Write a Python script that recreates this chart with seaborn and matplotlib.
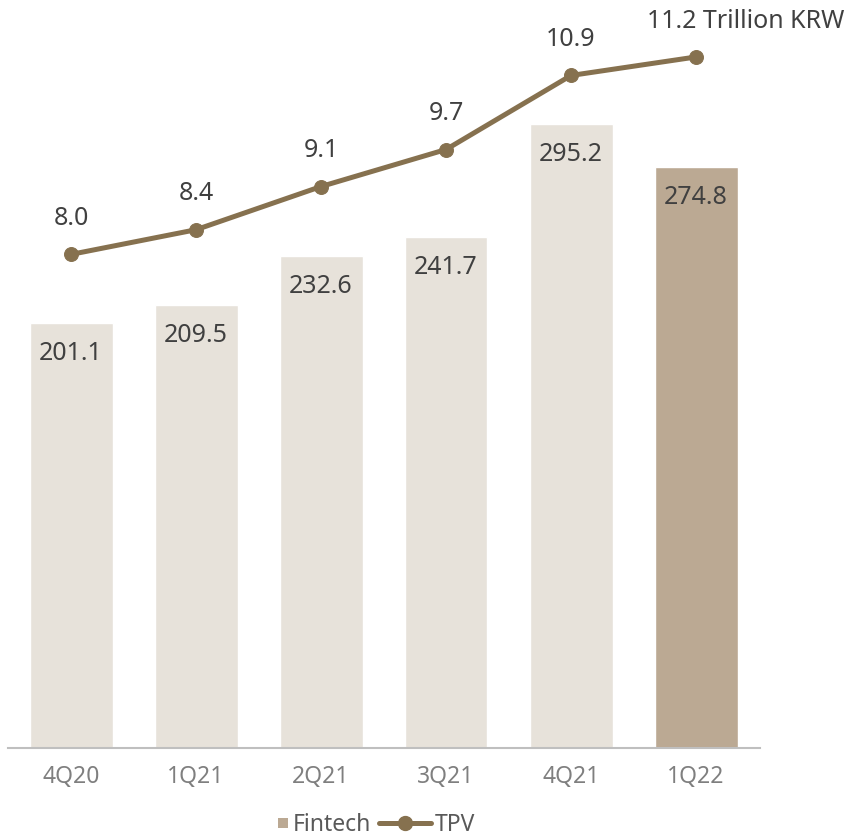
import matplotlib
matplotlib.use("Agg")
import matplotlib.pyplot as plt
import seaborn as sns
import pandas as pd
from matplotlib.lines import Line2D
from matplotlib.patches import Rectangle
from matplotlib.legend_handler import HandlerBase

quarters = ["4Q20", "1Q21", "2Q21", "3Q21", "4Q21", "1Q22"]
fintech = [201.1, 209.5, 232.6, 241.7, 295.2, 274.8]
tpv = [8.0, 8.4, 9.1, 9.7, 10.9, 11.2]
tpv_labels = ["8.0", "8.4", "9.1", "9.7", "10.9", "11.2 Trillion KRW"]

sns.set_style("white")
plt.rcParams['font.family'] = ['Noto Sans', 'DejaVu Sans']

bar_light = "#E7E2DA"
bar_dark = "#BBA993"
line_col = "#86714F"
text_col = "#404040"

df = pd.DataFrame({"q": quarters, "fintech": fintech, "tpv": tpv})

fig = plt.figure(figsize=(8.44, 8.39), dpi=100)
ax = fig.add_axes([8/844, 91/839, 752/844, 738/839])
palette = [bar_light]*5 + [bar_dark]
sns.barplot(data=df, x="q", y="fintech", hue="q", palette=palette, legend=False,
            width=0.664, ax=ax, saturation=1)
ax.set_xlim(-0.504, 5.512)
ax.set_ylim(0, 738/2.114)
for s in ["top", "right", "left"]:
    ax.spines[s].set_visible(False)
ax.spines["bottom"].set_color("#BFBFBF")
ax.spines["bottom"].set_linewidth(1.5)
ax.set_yticks([])
ax.set_xlabel("")
ax.set_ylabel("")
ax.tick_params(axis="x", length=0, pad=12, labelsize=16.5, labelcolor="#7F7F7F")

for i, v in enumerate(fintech):
    ax.text(i, v - 14.5, f"{v:.1f}", ha="center", va="center", fontsize=18, color=text_col)

ax2 = ax.twinx()
sns.lineplot(x=list(range(len(quarters))), y=tpv, ax=ax2, color=line_col, linewidth=3.6,
             marker="o", markersize=10, markeredgecolor=line_col, legend=False)
ax2.set_ylim(0, 738/61.7)
ax2.set_xlim(-0.504, 5.512)
ax2.axis("off")
for i, (v, lab) in enumerate(zip(tpv, tpv_labels)):
    if i == len(tpv) - 1:
        ax2.text(i - 0.39, v + 0.58, lab, ha="left", va="center", fontsize=18, color=text_col)
    else:
        ax2.text(i, v + 0.58, lab, ha="center", va="center", fontsize=18, color=text_col)


class SquareHandler(HandlerBase):
    def create_artists(self, legend, orig_handle, xdescent, ydescent, width, height,
                       fontsize, trans):
        s = 10 * 72 / 100
        r = Rectangle((width - s - xdescent, (height - s) / 2 - ydescent), s, s,
                      facecolor=bar_dark, edgecolor="none", transform=trans)
        return [r]


fin_handle = Rectangle((0, 0), 1, 1, facecolor=bar_dark, label="Fintech")
tpv_handle = Line2D([0], [0], color=line_col, lw=3.6, marker="o", markersize=10, label="TPV")
fig.legend(handles=[fin_handle, tpv_handle], loc="center",
           bbox_to_anchor=(356/844, 1 - 825/839), ncol=2,
           frameon=False, fontsize=16.5, handlelength=2.25, handletextpad=0.2,
           columnspacing=0.35, labelcolor="#595959", borderpad=0.1,
           handler_map={Rectangle: SquareHandler()})

fig.savefig("out.png", dpi=100)
